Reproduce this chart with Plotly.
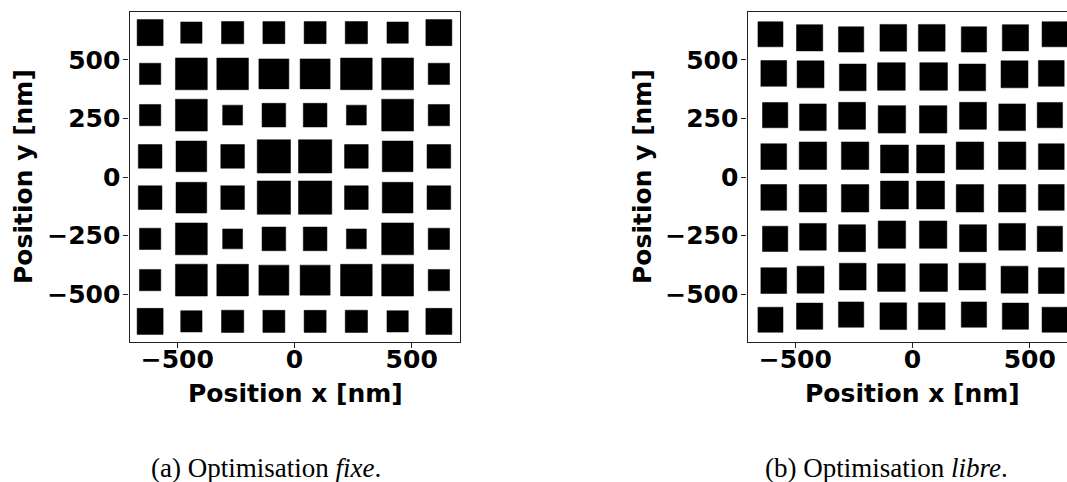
import plotly.graph_objects as go

# ---------------- data ----------------
# (a) fixed grid: centres [nm] and square side lengths [nm] (rows top -> bottom)
grid_centres = [-616, -440, -264, -88, 88, 264, 440, 616]

fixed_sizes = [
    [111, 91, 95, 94, 94, 95, 91, 111],
    [91, 136, 135, 128, 128, 135, 136, 91],
    [91, 136, 85, 101, 101, 85, 136, 91],
    [101, 131, 101, 142, 142, 101, 131, 101],
    [101, 131, 101, 142, 142, 101, 131, 101],
    [91, 136, 85, 101, 101, 85, 136, 91],
    [91, 136, 135, 128, 128, 135, 136, 91],
    [111, 91, 95, 94, 94, 95, 91, 111],
]

# (b) free optimisation: centres x, y and side lengths [nm] (rows top -> bottom)
free_x = [
    [-606, -439, -262, -82, 82, 262, 439, 606],
    [-592, -435, -255, -90, 90, 255, 435, 592],
    [-586, -425, -258, -88, 88, 258, 425, 586],
    [-592, -425, -245, -77, 77, 245, 425, 592],
    [-592, -425, -245, -77, 77, 245, 425, 592],
    [-586, -425, -258, -88, 88, 258, 425, 586],
    [-592, -435, -255, -90, 90, 255, 435, 592],
    [-606, -439, -262, -82, 82, 262, 439, 606],
]
free_y = [
    [609, 594, 587, 594, 594, 587, 594, 609],
    [442, 438, 425, 429, 429, 425, 438, 442],
    [264, 255, 261, 246, 246, 261, 255, 264],
    [87, 91, 91, 77, 77, 91, 91, 87],
    [-87, -91, -91, -77, -77, -91, -91, -87],
    [-264, -255, -261, -246, -246, -261, -255, -264],
    [-442, -438, -425, -429, -429, -425, -438, -442],
    [-609, -594, -587, -594, -594, -587, -594, -609],
]
free_sizes = [
    [107, 112, 108, 114, 114, 108, 112, 107],
    [110, 115, 114, 118, 118, 114, 115, 110],
    [108, 114, 115, 117, 117, 115, 114, 108],
    [110, 117, 117, 119, 119, 117, 117, 110],
    [110, 117, 117, 119, 119, 117, 117, 110],
    [108, 114, 115, 117, 117, 115, 114, 108],
    [110, 115, 114, 118, 118, 114, 115, 110],
    [107, 112, 108, 114, 114, 108, 112, 107],
]

tick_vals = [-500, -250, 0, 250, 500]
y_tick_text = ["\u2212500", "\u2212250", "0", "250", "500"]
x_tick_vals = [-500, 0, 500]
x_tick_text = ["\u2212500", "0", "500"]

captions = ["(a) Optimisation <i>fixe</i>.", "(b) Optimisation <i>libre</i>."]
x_label = "Position x [nm]"
y_label = "Position y [nm]"


def squares(xs, ys, ss):
    px, py = [], []
    for cx, cy, s in zip(xs, ys, ss):
        h = s / 2
        px += [cx - h, cx + h, cx + h, cx - h, cx - h, None]
        py += [cy - h, cy - h, cy + h, cy + h, cy - h, None]
    return px, py


fx, fy, fs = [], [], []
for r, row in enumerate(fixed_sizes):
    yc = grid_centres[::-1][r]
    for c, s in enumerate(row):
        fx.append(grid_centres[c]); fy.append(yc); fs.append(s)

gx, gy, gs = [], [], []
for r in range(8):
    for c in range(8):
        gx.append(free_x[r][c]); gy.append(free_y[r][c]); gs.append(free_sizes[r][c])

fig = go.Figure()
ax, ay = squares(fx, fy, fs)
fig.add_trace(go.Scatter(x=ax, y=ay, mode="lines", fill="toself", fillcolor="black",
                         line=dict(color="black", width=0.5), hoverinfo="skip",
                         showlegend=False, xaxis="x", yaxis="y"))
bx, by = squares(gx, gy, gs)
fig.add_trace(go.Scatter(x=bx, y=by, mode="lines", fill="toself", fillcolor="black",
                         line=dict(color="black", width=0.5), hoverinfo="skip",
                         showlegend=False, xaxis="x2", yaxis="y2"))

W, H = 1067, 482
tick_font = dict(family="DejaVu Sans", size=25, color="black", weight="bold")
y0 = (H - 342) / H
y1 = (H - 12) / H

common_axis = dict(showgrid=False, zeroline=False, showline=True, linecolor="#222",
                   linewidth=1.2, ticks="outside", ticklen=5, tickwidth=1.2,
                   tickcolor="#222", tickfont=tick_font)

fig.update_layout(
    width=W, height=H, autosize=False,
    margin=dict(l=0, r=0, t=0, b=0),
    paper_bgcolor="white", plot_bgcolor="white",
    xaxis=dict(domain=[129.5 / W, 459.5 / W], range=[-704, 704], anchor="y",
               mirror=True, tickvals=x_tick_vals, ticktext=x_tick_text,
               ticklabelstandoff=-10, **common_axis),
    yaxis=dict(domain=[y0, y1], range=[-704, 704], anchor="x",
               mirror=True, tickvals=tick_vals, ticktext=y_tick_text,
               ticklabelstandoff=-2, **common_axis),
    xaxis2=dict(domain=[747.5 / W, 1.0], range=[-704, 659], anchor="y2",
                mirror=True, tickvals=x_tick_vals, ticktext=x_tick_text,
                ticklabelstandoff=-10, **common_axis),
    yaxis2=dict(domain=[y0, y1], range=[-704, 704], anchor="x2",
                mirror=False, tickvals=tick_vals, ticktext=y_tick_text,
                ticklabelstandoff=-2, **common_axis),
)

label_font = dict(family="DejaVu Sans", size=25, color="black", weight="bold")
cap_font = dict(family="Liberation Serif", size=27, color="black")

ann = [
    dict(text=x_label, x=295 / W, y=(H - 393) / H, font=label_font),
    dict(text=x_label, x=912.5 / W, y=(H - 393) / H, font=label_font),
    dict(text=y_label, x=23 / W, y=(H - 177) / H, textangle=-90, font=label_font),
    dict(text=y_label, x=642 / W, y=(H - 177) / H, textangle=-90, font=label_font),
    dict(text=captions[0], x=265.5 / W, y=(H - 468) / H, font=cap_font),
    dict(text=captions[1], x=886 / W, y=(H - 468) / H, font=cap_font),
]
for a in ann:
    a.update(xref="paper", yref="paper", showarrow=False, xanchor="center", yanchor="middle")
fig.update_layout(annotations=ann)

fig.write_html("out.html",
               config={"displayModeBar": False},
               post_script="document.body.style.margin='0';document.body.style.overflow='hidden';")
